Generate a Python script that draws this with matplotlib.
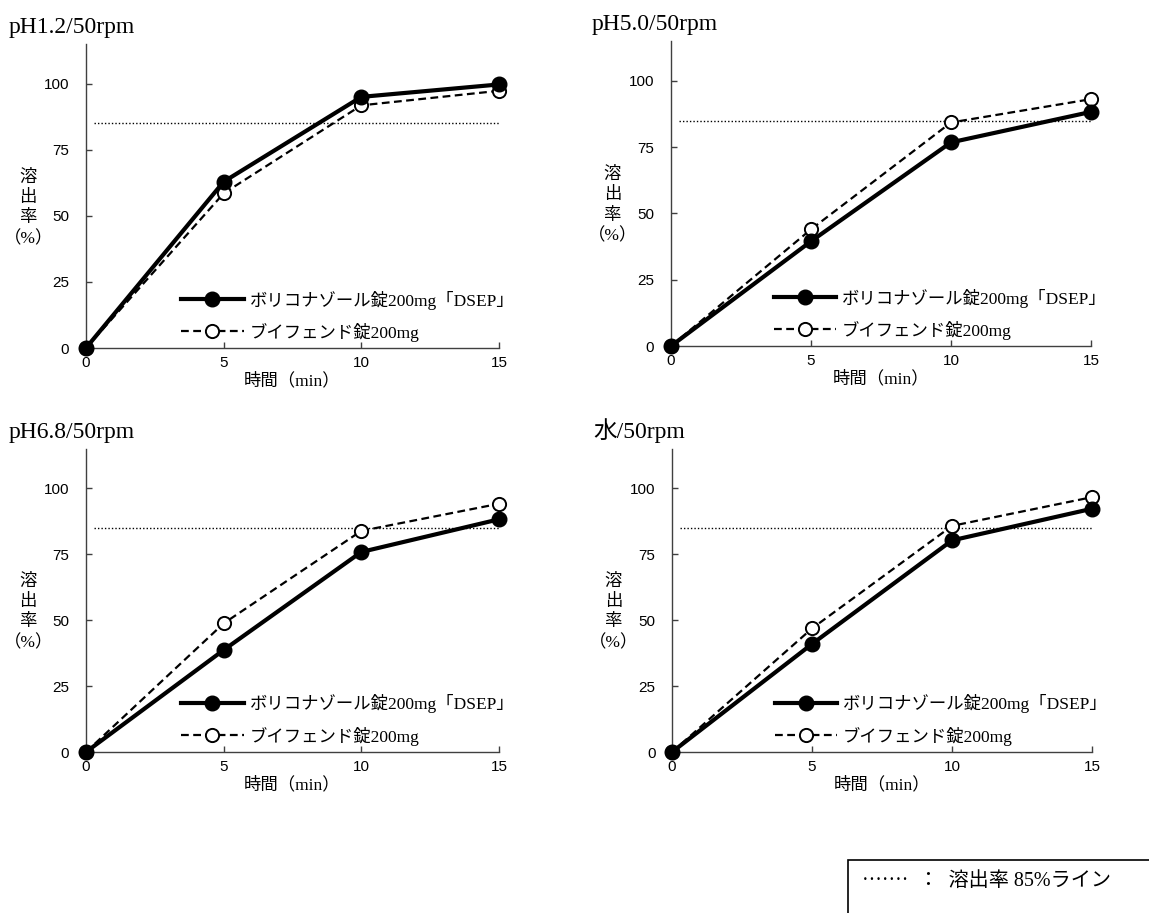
import numpy as np
import matplotlib
matplotlib.use("Agg")
import matplotlib.pyplot as plt

plt.rcParams['font.family'] = ['Liberation Serif', 'Noto Sans CJK JP', 'DejaVu Sans']

time_min = [0, 5, 10, 15]
titles = ["pH1.2/50rpm", "pH5.0/50rpm", "pH6.8/50rpm", "水/50rpm"]
dsep = [
    [0, 62.9, 95.0, 99.7],
    [0, 39.5, 76.8, 88.3],
    [0, 38.7, 75.9, 88.3],
    [0, 41.0, 80.3, 92.3],
]
vfend = [
    [0, 58.5, 91.8, 97.3],
    [0, 44.0, 84.3, 93.1],
    [0, 48.8, 83.9, 94.2],
    [0, 46.9, 85.8, 96.7],
]
yticks = [0, 25, 50, 75, 100]
xticks = [0, 5, 10, 15]
line85 = 85
label_dsep = "ボリコナゾール錠200mg「DSEP」"
label_vfend = "ブイフェンド錠200mg"

tick_font = ['Liberation Sans Narrow', 'Liberation Sans', 'DejaVu Sans']
jp_font = ['Liberation Serif', 'Noto Sans CJK JP']

fig = plt.figure(figsize=(11.49, 9.13), dpi=100)

# axes boxes in figure fraction
boxes = [
    [0.0748, 0.6188, 0.3595, 0.333],
    [0.5840, 0.6210, 0.3655, 0.334],
    [0.0748, 0.1763, 0.3595, 0.332],
    [0.5849, 0.1763, 0.3655, 0.332],
]

for i in range(4):
    ax = fig.add_axes(boxes[i])
    ax.hlines(line85, 0.3, 15, colors='k', linestyles=(0, (1, 1.5)), linewidth=1.0)
    ax.plot(time_min, vfend[i], 'k--', linewidth=1.6, marker='o', markersize=9.5,
            markerfacecolor='white', markeredgecolor='k', markeredgewidth=1.4,
            dashes=(3.5, 2.0), label=label_vfend, clip_on=False, zorder=3)
    ax.plot(time_min, dsep[i], 'k-', linewidth=3.0, marker='o', markersize=10.5,
            markerfacecolor='k', label=label_dsep, clip_on=False, zorder=4)
    ax.set_xlim(0, 15)
    ax.set_ylim(0, 115)
    ax.set_xticks(xticks)
    ax.set_yticks(yticks)
    for s in ['top', 'right']:
        ax.spines[s].set_visible(False)
    for s in ['left', 'bottom']:
        ax.spines[s].set_color('#404040')
        ax.spines[s].set_linewidth(1.0)
    ax.tick_params(direction='in', length=4, width=1, color='#404040', pad=6)
    for lab in ax.get_xticklabels() + ax.get_yticklabels():
        lab.set_family(tick_font)
        lab.set_fontsize(11)
    ax.yaxis.set_tick_params(pad=12)

    h, l = ax.get_legend_handles_labels()
    ax.legend(h[::-1], l[::-1], loc='lower right', bbox_to_anchor=(1.075, -0.03),
              frameon=False, prop={'family': jp_font, 'size': 12.5},
              handlelength=3.6, handletextpad=0.35, labelspacing=0.75)

    ax.text(-0.188, 1.035, titles[i], transform=ax.transAxes, ha='left',
            va='baseline', fontsize=17, family=jp_font)
    ax.set_xlabel("時間（min）", family=jp_font, fontsize=12.5, labelpad=2)
    ax.text(-0.14, 0.46, "溶\n出\n率\n（%）", transform=ax.transAxes,
            ha='center', va='center', fontsize=12.5, family=jp_font,
            linespacing=1.35)

# note box at bottom right
fig.patches.append(plt.Rectangle((848 / 1149, -0.01), 1 - 848 / 1149 + 0.01, 1 - 860 / 913 + 0.01,
                                 transform=fig.transFigure, fill=False,
                                 edgecolor='k', linewidth=1.2))
fig.text(862 / 1149, 1 - 881 / 913, "·······  ：  溶出率 85%ライン", family=jp_font,
         fontsize=14.5, va='center', ha='left')

fig.savefig("out.png", dpi=100)
